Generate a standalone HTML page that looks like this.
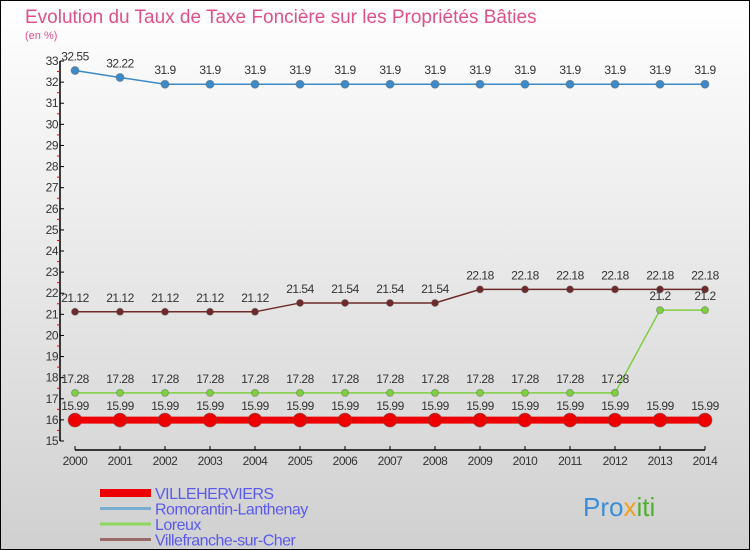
<!DOCTYPE html>
<html><head><meta charset="utf-8"><style>
body{margin:0}
svg{display:block;font-family:"Liberation Sans",sans-serif}
</style></head><body>
<svg id="c" width="750" height="550">
<defs><linearGradient id="bg" x1="0" y1="0" x2="0" y2="1"><stop offset="0" stop-color="#ffffff"/><stop offset="1" stop-color="#d0d0d0"/></linearGradient></defs>
<rect x="0.5" y="0.5" width="749" height="549" fill="url(#bg)" stroke="#000"/>
<text x="25" y="23" font-size="19" fill="#e0508a">Evolution du Taux de Taxe Foncière sur les Propriétés Bâties</text>
<text x="25" y="39" font-size="11" fill="#e0508a">(en %)</text>
<g id="axes"></g><g id="series"></g><g id="legend"></g>
<text x="583" y="516" font-size="26" fill="#3a8fd8">Pro<tspan fill="#f0a020">x</tspan><tspan fill="#50b030">iti</tspan></text>
</svg>
<script>
const years=[2000,2001,2002,2003,2004,2005,2006,2007,2008,2009,2010,2011,2012,2013,2014];
const villeherviers=[15.99,15.99,15.99,15.99,15.99,15.99,15.99,15.99,15.99,15.99,15.99,15.99,15.99,15.99,15.99];
const romorantin=[32.55,32.22,31.9,31.9,31.9,31.9,31.9,31.9,31.9,31.9,31.9,31.9,31.9,31.9,31.9];
const loreux=[17.28,17.28,17.28,17.28,17.28,17.28,17.28,17.28,17.28,17.28,17.28,17.28,17.28,21.2,21.2];
const villefranche=[21.12,21.12,21.12,21.12,21.12,21.54,21.54,21.54,21.54,22.18,22.18,22.18,22.18,22.18,22.18];
const yTicks=[15,16,17,18,19,20,21,22,23,24,25,26,27,28,29,30,31,32,33];
const NS="http://www.w3.org/2000/svg";
const X=i=>75+i*45;
const Y=v=>441-(v-15)*21.11;
function mk(t,a,p){const e=document.createElementNS(NS,t);for(const k in a)e.setAttribute(k,a[k]);p.appendChild(e);return e;}
const ax=document.getElementById('axes');
let l=mk('line',{x1:60,y1:Y(33),x2:60,y2:Y(15),stroke:'#000','stroke-width':1.5},ax);


yTicks.forEach(v=>{
 let t=mk('line',{x1:60,y1:Y(v),x2:64,y2:Y(v),stroke:'#000'},ax);
 
 
 if(v<33){let m=mk('line',{x1:57,y1:Y(v+0.5),x2:60,y2:Y(v+0.5),stroke:'#e00'},ax);
 
 }
 let tx=mk('text',{x:58,y:Y(v)+4,'font-size':12,'text-anchor':'end',fill:'#333','letter-spacing':'-0.5'},ax);
 tx.textContent=v;
 
 
});
l=mk('line',{x1:X(0),y1:450,x2:X(years.length-1),y2:450,stroke:'#000','stroke-width':1.5},ax);


years.forEach((y,i)=>{
 let t=mk('line',{x1:X(i),y1:446,x2:X(i),y2:450,stroke:'#000'},ax);
 
 
 let tx=mk('text',{x:X(i),y:465,'font-size':12,'text-anchor':'middle',fill:'#333','letter-spacing':'-0.5'},ax);
 tx.textContent=y;
 
 
});
const sg=document.getElementById('series');
function series(vals,color,lw,r,name){
 const g=mk('g',{},sg);
 
 
 let p=mk('polyline',{points:vals.map((v,i)=>X(i)+','+Y(v)).join(' '),fill:'none',stroke:color,'stroke-width':lw},g);
 
 
 vals.forEach((v,i)=>{
  let c=mk('circle',{cx:X(i),cy:Y(v),r:r,fill:color,stroke:'#555','stroke-opacity':0.4},g);
  
  
  let t=mk('text',{x:X(i),y:Y(v)-10,'font-size':12,'text-anchor':'middle',fill:'#333','letter-spacing':'-0.5'},g);
  t.textContent=v;
  
  
 });
}
series(romorantin,'#3d8ac8',1.5,4,'romorantin');
series(villefranche,'#6e2a2a',1.5,3.5,'villefranche');
series(loreux,'#7fd040',1.5,3.5,'loreux');
series(villeherviers,'#ee0000',7,7,'villeherviers');
const lg=document.getElementById('legend');
const names=['VILLEHERVIERS','Romorantin-Lanthenay','Loreux','Villefranche-sur-Cher'];
const cols=['#ee0000','#7aaed0','#8fd860','#9a6a6a'];
const widths=[8,3,3,3];
names.forEach((n,i)=>{
 const y=493+i*15.5;
 let r=mk('line',{x1:100,y1:y,x2:151,y2:y,stroke:cols[i],'stroke-width':widths[i]},lg);
 
 
 let t=mk('text',{x:155,y:y+6,'font-size':16,fill:'#5a5af0','letter-spacing':'-0.5'},lg);
 t.textContent=n;
 
 
});
</script>
</body></html>
